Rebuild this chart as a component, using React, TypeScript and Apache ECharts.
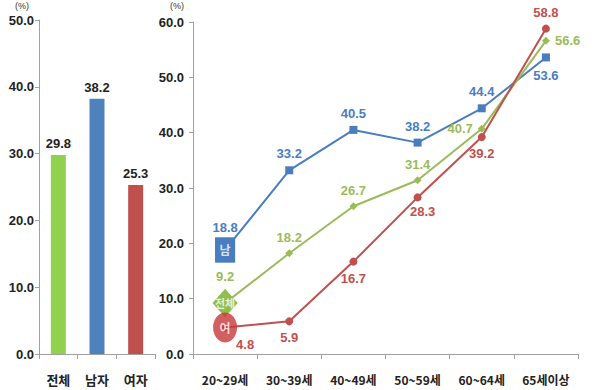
import React, { useEffect, useRef } from "react";
import * as echarts from "echarts";

const totalCats = ["전체", "남자", "여자"];
const totalValues = [29.8, 38.2, 25.3];
const ageCats = ["20~29세", "30~39세", "40~49세", "50~59세", "60~64세", "65세이상"];
const maleValues = [18.8, 33.2, 40.5, 38.2, 44.4, 53.6];
const allValues = [9.2, 18.2, 26.7, 31.4, 40.7, 56.6];
const femaleValues = [4.8, 5.9, 16.7, 28.3, 39.2, 58.8];
const maleLabelPos = ["top", "top", "top", "top", "top", "bottom"];
const allLabelPos = ["top", "top", "top", "top", "left", "right"];
const femaleLabelPos = ["inside", "bottom", "bottom", "bottom", "bottom", "top"];

const FONT = '"Liberation Sans Narrow", "Liberation Sans", "Noto Sans CJK KR", sans-serif';
const KFONT = '"Noto Sans CJK KR", "Liberation Sans", sans-serif';
const BLUE = "#4a7dbf";
const GREEN = "#9bbb59";
const RED = "#c0504d";

export default function App() {
  const ref = useRef<HTMLDivElement>(null);
  useEffect(() => {
    if (!ref.current) return;
    const chart = echarts.init(ref.current, null, { renderer: "svg" });
    const axisLine = { show: true, lineStyle: { color: "#a0a0a0", width: 1 } };
    const yLabel = {
      fontFamily: FONT,
      fontWeight: "bold" as const,
      fontSize: 13,
      color: "#222",
      formatter: (v: number) => v.toFixed(1),
    };
    const valLabel = (color: string) => ({
      show: true,
      fontFamily: FONT,
      fontWeight: "bold" as const,
      fontSize: 13,
      color,
      formatter: (p: any) => (typeof p.value === "number" ? p.value.toFixed(1) : p.value),
    });
    chart.setOption({
      animation: false,
      backgroundColor: "#fff",
      grid: [
        { left: 39, top: 20, width: 116, height: 334 },
        { left: 193, top: 22, width: 385, height: 332 },
      ],
      xAxis: [
        {
          type: "category",
          gridIndex: 0,
          data: totalCats,
          axisLine,
          axisTick: { show: true, length: 5, lineStyle: { color: "#a0a0a0" } },
          axisLabel: { margin: 19, fontFamily: KFONT, fontWeight: "bold", fontSize: 13, color: "#222" },
        },
        {
          type: "category",
          gridIndex: 1,
          data: ageCats,
          axisLine,
          axisTick: { show: true, length: 5, lineStyle: { color: "#a0a0a0" } },
          axisLabel: { margin: 19, fontFamily: KFONT, fontWeight: "bold", fontSize: 12, color: "#222" },
        },
      ],
      yAxis: [
        {
          type: "value",
          gridIndex: 0,
          min: 0,
          max: 50,
          interval: 10,
          axisLine,
          axisTick: { show: true, length: 4, lineStyle: { color: "#a0a0a0" } },
          splitLine: { show: false },
          axisLabel: { ...yLabel, margin: 5 },
        },
        {
          type: "value",
          gridIndex: 1,
          min: 0,
          max: 60,
          interval: 10,
          axisLine,
          axisTick: { show: true, length: 4, lineStyle: { color: "#a0a0a0" } },
          splitLine: { show: false },
          axisLabel: { ...yLabel, margin: 9 },
        },
      ],
      graphic: [
        { type: "text", left: 15, top: 1, style: { text: "(%)", fontSize: 9, fill: "#333", fontFamily: FONT } },
        { type: "text", left: 170, top: 1, style: { text: "(%)", fontSize: 9, fill: "#333", fontFamily: FONT } },
      ],
      series: [
        {
          type: "bar",
          xAxisIndex: 0,
          yAxisIndex: 0,
          barWidth: 15,
          data: totalValues.map((v, i) => ({
            value: v,
            itemStyle: { color: ["#92d050", "#4f81bd", "#c0504d"][i] },
          })),
          label: { ...valLabel("#222"), position: "top", distance: 5 },
        },
        {
          type: "line",
          name: "남",
          xAxisIndex: 1,
          yAxisIndex: 1,
          symbol: "rect",
          symbolSize: 8,
          lineStyle: { color: BLUE, width: 2 },
          itemStyle: { color: BLUE },
          data: maleValues.map((v, i) => ({
            value: v,
            symbolSize: i === 0 ? [20, 25] : 8,
            label: { position: maleLabelPos[i], distance: i === 0 ? 3 : i === 5 ? 8 : 6 },
          })),
          label: valLabel(BLUE),
          z: 3,
        },
        {
          type: "line",
          name: "전체",
          xAxisIndex: 1,
          yAxisIndex: 1,
          symbol: "diamond",
          symbolSize: 8,
          lineStyle: { color: GREEN, width: 2 },
          itemStyle: { color: GREEN },
          data: allValues.map((v, i) => ({
            value: v,
            symbolSize: i === 0 ? [25, 28] : 8,
            label: { position: allLabelPos[i], distance: i === 0 ? 6 : 5 },
          })),
          label: valLabel(GREEN),
          z: 3,
        },
        {
          type: "line",
          name: "여",
          xAxisIndex: 1,
          yAxisIndex: 1,
          symbol: "circle",
          symbolSize: 8,
          lineStyle: { color: RED, width: 2 },
          itemStyle: { color: RED },
          data: femaleValues.map((v, i) => ({
            value: v,
            label:
              i === 0
                ? { position: "inside", offset: [20, 17] }
                : i === 3
                ? { position: "bottom", offset: [5, 0], distance: 4 }
                : { position: femaleLabelPos[i], distance: 6 },
          })),
          label: valLabel(RED),
          z: 3,
        },
        {
          type: "scatter",
          xAxisIndex: 1,
          yAxisIndex: 1,
          z: 5,
          silent: true,
          data: [
            {
              value: [ageCats[0], maleValues[0]],
              symbol: "rect",
              symbolSize: [20, 25],
              itemStyle: { color: BLUE },
              label: { show: true, position: "inside", formatter: "남", color: "#fff", fontFamily: KFONT, fontSize: 12, fontWeight: "bold" },
            },
            {
              value: [ageCats[0], allValues[0]],
              symbol: "diamond",
              symbolSize: [25, 28],
              itemStyle: { color: "#8dbf4a" },
              label: { show: true, position: "inside", formatter: "전체", color: "#fff", fontFamily: KFONT, fontSize: 11, fontWeight: "bold" },
            },
            {
              value: [ageCats[0], femaleValues[0]],
              symbol: "circle",
              symbolSize: [24, 30],
              itemStyle: { color: "#c8383a" },
              label: { show: true, position: "inside", formatter: "여", color: "#fff", fontFamily: KFONT, fontSize: 12, fontWeight: "bold" },
            },
          ],
        },
      ],
    });
    return () => chart.dispose();
  }, []);
  return <div ref={ref} style={{ width: 600, height: 390, position: "absolute", left: 0, top: 0 }} />;
}
